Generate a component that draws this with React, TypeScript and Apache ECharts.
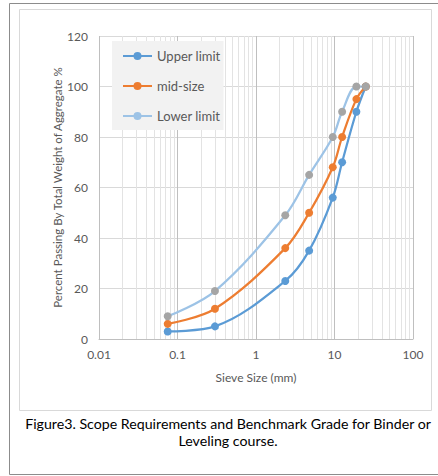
import React, { useEffect, useRef } from "react";
import * as echarts from "echarts";

const sieveSizes = [0.075, 0.3, 2.36, 4.75, 9.5, 12.5, 19, 25];
const upperLimit = [3, 5, 23, 35, 56, 70, 90, 100];
const midSize = [6, 12, 36, 50, 68, 80, 95, 100];
const lowerLimit = [9, 19, 49, 65, 80, 90, 100, 100];
const seriesNames = ["Upper limit", "mid-size", "Lower limit"];
const minorGridValues = [
  0.02, 0.03, 0.04, 0.05, 0.06, 0.07, 0.08, 0.09,
  0.2, 0.3, 0.4, 0.5, 0.6, 0.7, 0.8, 0.9,
  2, 3, 4, 5, 6, 7, 8, 9,
  20, 30, 40, 50, 60, 70, 80, 90,
];
const xAxisTitle = "Sieve Size (mm)";
const yAxisTitle = "Percent Passing By Total Weight of Aggregate %";
const captionLines = [
  "Figure3. Scope Requirements and Benchmark Grade for Binder or",
  "Leveling course.",
];

const FONT = "Lato, 'Open Sans', sans-serif";
// legend glyph: a horizontal line with a round marker in the middle (29 x 8 box)
const LEGEND_ICON =
  "path://M0,3 L29,3 L29,5 L0,5 Z M10.5,4 A4,4 0 1 1 18.5,4 A4,4 0 1 1 10.5,4 Z";

export default function App() {
  const ref = useRef<HTMLDivElement>(null);

  useEffect(() => {
    if (!ref.current) return;
    const chart = echarts.init(ref.current, null, { renderer: "svg" });
    const pair = (ys: number[]) => sieveSizes.map((x, i) => [x, ys[i]]);

    const mkSeries = (name: string, ys: number[], lineColor: string, markerColor: string) => ({
      name,
      type: "line",
      data: pair(ys),
      smooth: 0.35,
      symbol: "circle",
      symbolSize: 8,
      showSymbol: true,
      z: 3,
      lineStyle: { color: lineColor, width: 2.25 },
      itemStyle: { color: markerColor },
    });

    const legendColors = ["#5b9bd5", "#ed7d31", "#9dc3e6"];

    chart.setOption({
      animation: false,
      backgroundColor: "#ffffff",
      textStyle: { fontFamily: FONT },
      grid: { left: 99, right: 25, top: 36, bottom: 137, containLabel: false },
      legend: {
        z: 10,
        data: seriesNames.map((n, i) => ({
          name: n,
          icon: LEGEND_ICON,
          itemStyle: { color: legendColors[i], borderWidth: 0 },
        })),
        orient: "vertical",
        left: 112,
        top: 41,
        backgroundColor: "#f2f2f2",
        padding: [8.5, 3, 7.5, 11],
        itemWidth: 29,
        itemHeight: 8,
        itemGap: 17,
        textStyle: { color: "#595959", fontSize: 13, fontFamily: FONT },
      },
      xAxis: {
        type: "log",
        logBase: 10,
        min: 0.01,
        max: 100,
        name: xAxisTitle,
        nameLocation: "middle",
        nameGap: 32,
        nameMoveOverlap: false,
        nameTextStyle: { color: "#595959", fontSize: 12, fontFamily: FONT },
        axisLine: { show: true, lineStyle: { color: "#bfbfbf" } },
        axisTick: { show: false },
        axisLabel: {
          color: "#595959",
          fontSize: 12,
          margin: 9,
          fontFamily: FONT,
          formatter: (v: number) => String(v),
        },
        splitLine: { show: true, lineStyle: { color: "#bfbfbf", width: 1 } },
      },
      yAxis: {
        type: "value",
        min: 0,
        max: 120,
        interval: 20,
        name: yAxisTitle,
        nameLocation: "middle",
        nameGap: 35.5,
        nameMoveOverlap: false,
        nameTextStyle: { color: "#595959", fontSize: 11.5, fontFamily: FONT },
        axisLine: { show: false },
        axisTick: { show: false },
        axisLabel: { color: "#595959", fontSize: 12, margin: 11, fontFamily: FONT },
        splitLine: { show: true, lineStyle: { color: "#d9d9d9", width: 1 } },
      },
      series: [
        {
          name: "minor-grid",
          type: "line",
          data: [],
          z: 0,
          silent: true,
          markLine: {
            z: 0,
            silent: true,
            symbol: "none",
            label: { show: false },
            lineStyle: { color: "#e3e3e3", type: "solid", width: 1 },
            data: minorGridValues.map((v) => ({ xAxis: v })),
          },
        },
        mkSeries(seriesNames[0], upperLimit, "#5b9bd5", "#5b9bd5"),
        mkSeries(seriesNames[1], midSize, "#ed7d31", "#ed7d31"),
        mkSeries(seriesNames[2], lowerLimit, "#9dc3e6", "#a5a5a5"),
      ],
      graphic: [
        {
          type: "rect",
          silent: true,
          z: -10,
          shape: { x: 9.5, y: 3.5, width: 440, height: 471 },
          style: { fill: "none", stroke: "#8c8c8c", lineWidth: 1 },
        },
        {
          type: "rect",
          silent: true,
          z: -10,
          shape: { x: 19.5, y: 9.5, width: 412, height: 401 },
          style: { fill: "none", stroke: "#d9d9d9", lineWidth: 1 },
        },
        {
          type: "text",
          silent: true,
          x: 228,
          y: 423,
          style: {
            text: captionLines[0],
            fill: "#000000",
            font: `14.2px ${FONT}`,
            textAlign: "center",
            textVerticalAlign: "middle",
          },
        },
        {
          type: "text",
          silent: true,
          x: 228,
          y: 440,
          style: {
            text: captionLines[1],
            fill: "#000000",
            font: `14.2px ${FONT}`,
            textAlign: "center",
            textVerticalAlign: "middle",
          },
        },
      ],
    });

    return () => chart.dispose();
  }, []);

  return (
    <div
      ref={ref}
      style={{ position: "fixed", left: 0, top: 0, width: 438, height: 476, background: "#fff" }}
    />
  );
}
